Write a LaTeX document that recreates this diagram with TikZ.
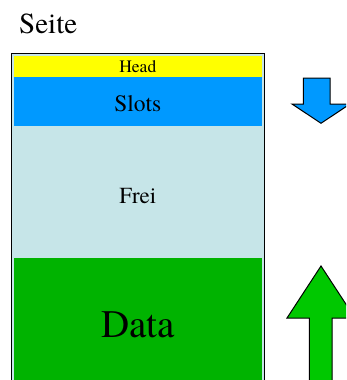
\documentclass[tikz,border=0pt]{standalone}
\usepackage{fontspec}
\newfontfamily\timesfont{texgyretermes}[Extension=.otf, UprightFont=*-regular]
\definecolor{headyellow}{RGB}{255,255,0}
\definecolor{slotblue}{RGB}{0,153,255}
\definecolor{freeblue}{RGB}{198,229,232}
\definecolor{datagreen}{RGB}{0,179,0}
\definecolor{arrowgreen}{RGB}{0,200,0}
\tikzset{
  band/.style={draw=none},
  lbl/.style={anchor=base, inner sep=0pt, text=black},
  bigarrow/.style={draw=black, line width=1pt, line join=miter},
}
\begin{document}
\begin{tikzpicture}[x=1pt,y=-1pt]
\useasboundingbox (0,0) rectangle (346,380);
\clip (0,0) rectangle (346,380);
% page frame
\fill[freeblue] (11.3,53.5) rectangle (264.3,400);
\fill[band, headyellow] (13.5,56) rectangle (262,76.5);
\fill[band, slotblue] (13.5,76.5) rectangle (262,125.5);
\fill[band, datagreen] (13.5,258) rectangle (262,400);
\draw[black, line width=1.5pt] (11.3,400) -- (11.3,53.5) -- (264.3,53.5) -- (264.3,400);
% labels
\node[lbl, anchor=base west, font=\timesfont\fontsize{29}{30}\selectfont] (seite) at (19,33) {Seite};
\node[lbl, font=\timesfont\fontsize{17.5}{18}\selectfont] (head) at (137.8,72.7) {Head};
\node[lbl, font=\timesfont\fontsize{23.5}{24}\selectfont] (slots) at (137.8,111) {Slots};
\node[lbl, font=\timesfont\fontsize{23}{24}\selectfont] (frei) at (137.8,203.3) {Frei};
\node[lbl, font=\timesfont\fontsize{39}{40}\selectfont] (data) at (138,337) {Data};
% arrows
\draw[bigarrow, fill=slotblue] (303.3,78) -- (330,78) -- (330,104) -- (350,104) -- (321,123.3) -- (292,104) -- (303.3,104) -- cycle;
\draw[bigarrow, fill=arrowgreen] (321,266) -- (355,318) -- (332,318) -- (332,400) -- (309.3,400) -- (309.3,318) -- (287,318) -- cycle;
\end{tikzpicture}
\end{document}
